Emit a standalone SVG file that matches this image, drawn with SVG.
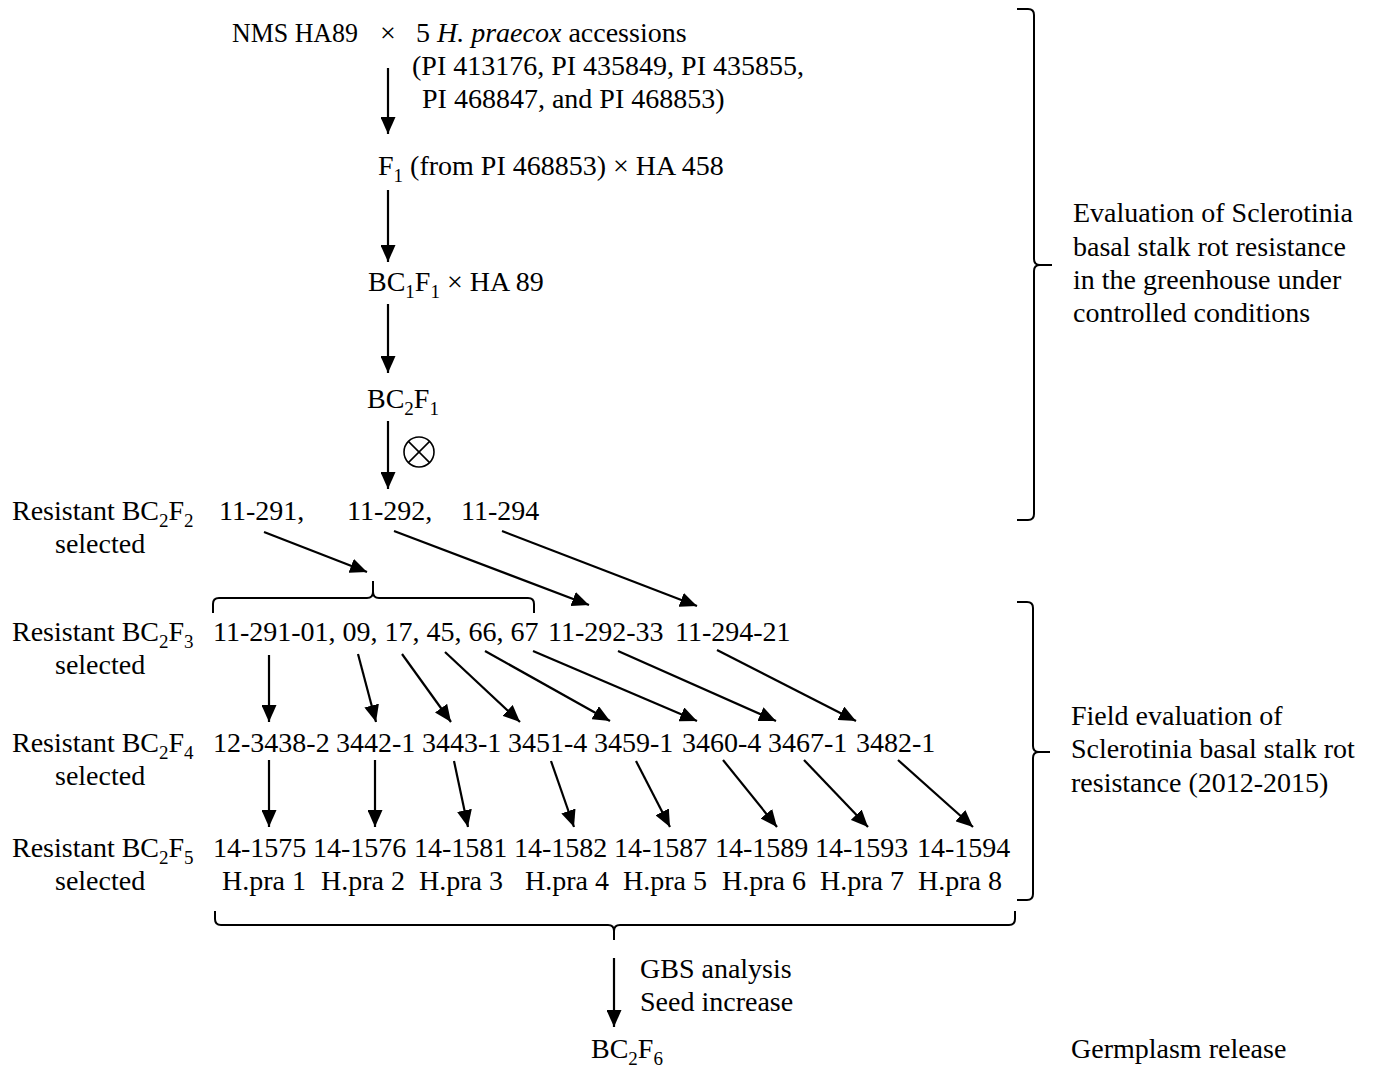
<svg xmlns="http://www.w3.org/2000/svg" width="1374" height="1068" viewBox="0 0 1374 1068">
<style>
text { font-family: "Liberation Serif", "Times New Roman", serif; font-size: 28px; fill: #000; }
.s { font-size: 19px; }
.it { font-style: italic; }
.c { stroke: #000; stroke-width: 2.2; fill: none; marker-end: url(#ah); }
.b { stroke: #000; stroke-width: 2; fill: none; }
</style>
<defs>
<marker id="ah" markerUnits="userSpaceOnUse" markerWidth="17" markerHeight="15" refX="17" refY="7.5" orient="auto">
<path d="M0,0 L17,7.5 L0,15 z" fill="#000"/>
</marker>
</defs>
<rect width="1374" height="1068" fill="#fff"/>

<g id="cross1">
<text x="232" y="42" textLength="126" lengthAdjust="spacingAndGlyphs">NMS HA89</text>
<text x="388" y="42" text-anchor="middle">×</text>
<text x="416" y="42">5 <tspan class="it">H. praecox</tspan> accessions</text>
<text x="412" y="75">(PI 413176, PI 435849, PI 435855,</text>
<text x="422" y="108">PI 468847, and PI 468853)</text>
</g>
<g id="cross2">
<text x="378" y="175">F<tspan class="s" dy="7">1</tspan><tspan dy="-7"> (from PI 468853) × HA 458</tspan></text>
</g>
<g id="cross3">
<text x="368" y="291">BC<tspan class="s" dy="7">1</tspan><tspan dy="-7">F</tspan><tspan class="s" dy="7">1</tspan><tspan dy="-7"> × HA 89</tspan></text>
</g>
<g id="bc2f1">
<text x="367" y="408">BC<tspan class="s" dy="7">2</tspan><tspan dy="-7">F</tspan><tspan class="s" dy="7">1</tspan></text>
<circle cx="419" cy="452" r="15" fill="none" stroke="#000" stroke-width="1.6"/>
<line x1="408.4" y1="441.4" x2="429.6" y2="462.6" stroke="#000" stroke-width="1.6"/>
<line x1="429.6" y1="441.4" x2="408.4" y2="462.6" stroke="#000" stroke-width="1.6"/>
</g>

<g id="label-f2">
<text x="12" y="520">Resistant BC<tspan class="s" dy="7">2</tspan><tspan dy="-7">F</tspan><tspan class="s" dy="7">2</tspan></text>
<text x="55" y="553">selected</text>
</g>
<g id="f2">
<text x="219" y="520">11-291,</text>
<text x="347" y="520">11-292,</text>
<text x="461" y="520">11-294</text>
</g>

<g id="label-f3">
<text x="12" y="641">Resistant BC<tspan class="s" dy="7">2</tspan><tspan dy="-7">F</tspan><tspan class="s" dy="7">3</tspan></text>
<text x="55" y="674">selected</text>
</g>
<g id="f3">
<text x="213" y="641">11-291-01, 09, 17, 45, 66, 67</text>
<text x="548" y="641">11-292-33</text>
<text x="675" y="641">11-294-21</text>
</g>

<g id="label-f4">
<text x="12" y="752">Resistant BC<tspan class="s" dy="7">2</tspan><tspan dy="-7">F</tspan><tspan class="s" dy="7">4</tspan></text>
<text x="55" y="785">selected</text>
</g>
<g id="f4">
<text x="213" y="752">12-3438-2</text>
<text x="336" y="752">3442-1</text>
<text x="422" y="752">3443-1</text>
<text x="508" y="752">3451-4</text>
<text x="594" y="752">3459-1</text>
<text x="682" y="752">3460-4</text>
<text x="768" y="752">3467-1</text>
<text x="856" y="752">3482-1</text>
</g>

<g id="label-f5">
<text x="12" y="857">Resistant BC<tspan class="s" dy="7">2</tspan><tspan dy="-7">F</tspan><tspan class="s" dy="7">5</tspan></text>
<text x="55" y="890">selected</text>
</g>
<g id="f5">
<text x="213" y="857">14-1575</text>
<text x="313" y="857">14-1576</text>
<text x="414" y="857">14-1581</text>
<text x="514" y="857">14-1582</text>
<text x="614" y="857">14-1587</text>
<text x="715" y="857">14-1589</text>
<text x="815" y="857">14-1593</text>
<text x="917" y="857">14-1594</text>
<text x="222" y="890">H.pra 1</text>
<text x="321" y="890">H.pra 2</text>
<text x="419" y="890">H.pra 3</text>
<text x="525" y="890">H.pra 4</text>
<text x="623" y="890">H.pra 5</text>
<text x="722" y="890">H.pra 6</text>
<text x="820" y="890">H.pra 7</text>
<text x="918" y="890">H.pra 8</text>
</g>

<g id="gbs">
<text x="640" y="978">GBS analysis</text>
<text x="640" y="1011">Seed increase</text>
</g>
<g id="bc2f6">
<text x="591" y="1058">BC<tspan class="s" dy="7">2</tspan><tspan dy="-7">F</tspan><tspan class="s" dy="7">6</tspan></text>
</g>

<g id="greenhouse">
<text x="1073" y="222">Evaluation of Sclerotinia</text>
<text x="1073" y="256">basal stalk rot resistance</text>
<text x="1073" y="289">in the greenhouse under</text>
<text x="1073" y="322">controlled conditions</text>
</g>
<g id="field">
<text x="1071" y="725">Field evaluation of</text>
<text x="1071" y="758">Sclerotinia basal stalk rot</text>
<text x="1071" y="792">resistance (2012-2015)</text>
</g>
<g id="release">
<text x="1071" y="1058">Germplasm release</text>
</g>

<g id="braces">
<path class="b" d="M1017,9 L1028,9 Q1034,9 1034,15 L1034,259 Q1034,265 1040,265 L1052,265 M1040,265 Q1034,265 1034,271 L1034,514 Q1034,520 1028,520 L1017,520"/>
<path class="b" d="M1017,602 L1027,602 Q1033,602 1033,608 L1033,746 Q1033,752 1039,752 L1050,752 M1039,752 Q1033,752 1033,758 L1033,894 Q1033,900 1027,900 L1017,900"/>
<path class="b" d="M213,613 L213,604 Q213,598 219,598 L367,598 Q373,598 373,592 L373,581 M373,592 Q373,598 379,598 L528,598 Q534,598 534,604 L534,613"/>
<path class="b" d="M215,911 L215,919 Q215,925 221,925 L608,925 Q614,925 614,931 L614,940 M614,931 Q614,925 620,925 L1009,925 Q1015,925 1015,919 L1015,911"/>
</g>

<g id="connectors">
<line class="c" x1="388" y1="68" x2="388" y2="134"/>
<line class="c" x1="388" y1="190" x2="388" y2="262"/>
<line class="c" x1="388" y1="304" x2="388" y2="373"/>
<line class="c" x1="388" y1="421" x2="388" y2="489"/>

<line class="c" x1="264" y1="532" x2="367" y2="572"/>
<line class="c" x1="394" y1="531" x2="589" y2="605"/>
<line class="c" x1="502" y1="531" x2="697" y2="606"/>

<line class="c" x1="269" y1="655" x2="269" y2="722"/>
<line class="c" x1="358" y1="654" x2="376" y2="722"/>
<line class="c" x1="402" y1="654" x2="451" y2="722"/>
<line class="c" x1="445" y1="652" x2="520" y2="722"/>
<line class="c" x1="485" y1="651" x2="610" y2="721"/>
<line class="c" x1="533" y1="651" x2="697" y2="721"/>
<line class="c" x1="618" y1="651" x2="776" y2="721"/>
<line class="c" x1="717" y1="650" x2="856" y2="721"/>

<line class="c" x1="269" y1="760" x2="269" y2="827"/>
<line class="c" x1="375" y1="760" x2="375" y2="827"/>
<line class="c" x1="454" y1="761" x2="468" y2="827"/>
<line class="c" x1="551" y1="761" x2="574" y2="827"/>
<line class="c" x1="636" y1="761" x2="670" y2="827"/>
<line class="c" x1="723" y1="760" x2="777" y2="827"/>
<line class="c" x1="804" y1="760" x2="868" y2="827"/>
<line class="c" x1="898" y1="760" x2="973" y2="827"/>

<line class="c" x1="614" y1="958" x2="614" y2="1027"/>
</g>
</svg>
